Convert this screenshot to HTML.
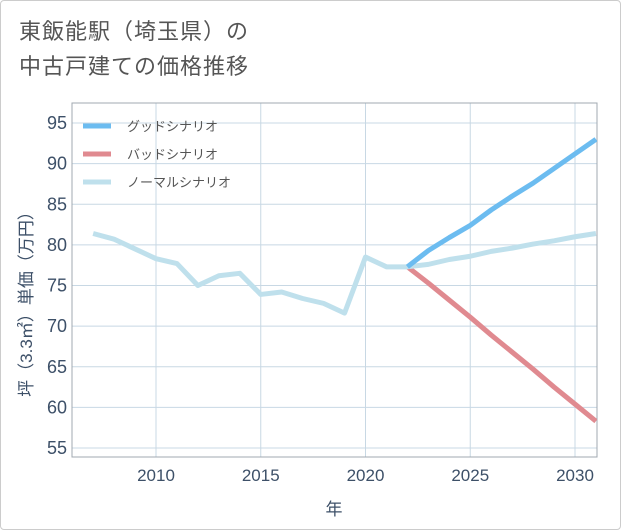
<!DOCTYPE html>
<html><head><meta charset="utf-8"><style>
body{margin:0;background:#fff;font-family:"Liberation Sans","Noto Sans CJK JP",sans-serif}
#wrap{position:relative;width:619px;height:528px;border:1px solid #ccc;border-radius:4px;overflow:hidden}
#title{position:absolute;left:18px;top:13px;font-size:22px;line-height:35px;color:#555;letter-spacing:1px}
</style></head><body>
<div id="wrap">
<div id="title">東飯能駅（埼玉県）の<br>中古戸建ての価格推移</div>
<svg id="chart" width="621" height="530" style="position:absolute;left:-1px;top:-1px"></svg>
</div>
<script>
const years=[2007,2008,2009,2010,2011,2012,2013,2014,2015,2016,2017,2018,2019,2020,2021,2022,2023,2024,2025,2026,2027,2028,2029,2030,2031];
const normalValues=[81.4,80.7,79.5,78.3,77.7,75.0,76.2,76.5,73.9,74.2,73.4,72.8,71.6,78.5,77.3,77.3,77.6,78.2,78.6,79.2,79.6,80.1,80.5,81.0,81.4];
const futureYears=[2022,2023,2024,2025,2026,2027,2028,2029,2030,2031];
const goodValues=[77.3,79.3,80.9,82.4,84.3,86.0,87.6,89.4,91.2,93.0];
const badValues=[77.3,75.3,73.2,71.1,68.9,66.8,64.7,62.5,60.4,58.3];
const xTicks=[2010,2015,2020,2025,2030];
const yTicks=[55,60,65,70,75,80,85,90,95];
const L=72,R=597,T=103,B=457;
const x=v=>156+(v-2010)*(575-156)/20;
const y=v=>448-(v-55)*(448-123)/40;
const svg=document.getElementById('chart');
const NS='http://www.w3.org/2000/svg';
function mk(t,a,p){const e=document.createElementNS(NS,t);for(const k in a)e.setAttribute(k,a[k]);(p||svg).appendChild(e);return e;}
for(const t of xTicks){const g=mk('line',{x1:x(t),x2:x(t),y1:T,y2:B,stroke:'#c8d8e4','stroke-width':1});


const tx=mk('text',{x:x(t),y:481,'text-anchor':'middle','font-size':17,fill:'#3d5068'});tx.textContent=t;

}
for(const t of yTicks){const g=mk('line',{x1:L,x2:R,y1:y(t),y2:y(t),stroke:'#c8d8e4','stroke-width':1});


const tx=mk('text',{x:67,y:y(t)+6,'text-anchor':'end','font-size':18,fill:'#3d5068'});tx.textContent=t;

}
const fr=mk('rect',{x:L,y:T,width:R-L,height:B-T,fill:'none',stroke:'#a0a8b0','stroke-width':1});


function line(xs,vs,c,name){const p=mk('polyline',{points:xs.map((v,i)=>x(v)+','+y(vs[i])).join(' '),fill:'none',stroke:c,'stroke-width':5,'stroke-linejoin':'round'});

}
const cp=mk('clipPath',{id:'cp'});mk('rect',{x:L,y:T,width:R-L,height:B-T},cp);
line(futureYears,badValues,'#e08a90','bad-scenario-line');
line(years,normalValues,'#bfe0ec','normal-scenario-line');
line(futureYears,goodValues,'#6cbcf0','good-scenario-line');
svg.querySelectorAll('polyline').forEach(p=>p.setAttribute('clip-path','url(#cp)'));
const leg=[['グッドシナリオ','#6cbcf0',126],['バッドシナリオ','#e08a90',154],['ノーマルシナリオ','#bfe0ec',182]];
for(const [n,c,yy] of leg){const l=mk('line',{x1:83,x2:111,y1:yy,y2:yy,stroke:c,'stroke-width':5});


const t=mk('text',{x:127,y:yy+5,'font-size':13,fill:'#555'});t.textContent=n;

}
const xt=mk('text',{x:334,y:515,'text-anchor':'middle','font-size':17,fill:'#3d5068'});xt.textContent='年';


const yt=mk('text',{x:0,y:0,'text-anchor':'middle','font-size':17,fill:'#3d5068',transform:'translate(32,300) rotate(-90)'});yt.textContent='坪（3.3㎡）単価（万円）';


</script>
</body></html>
